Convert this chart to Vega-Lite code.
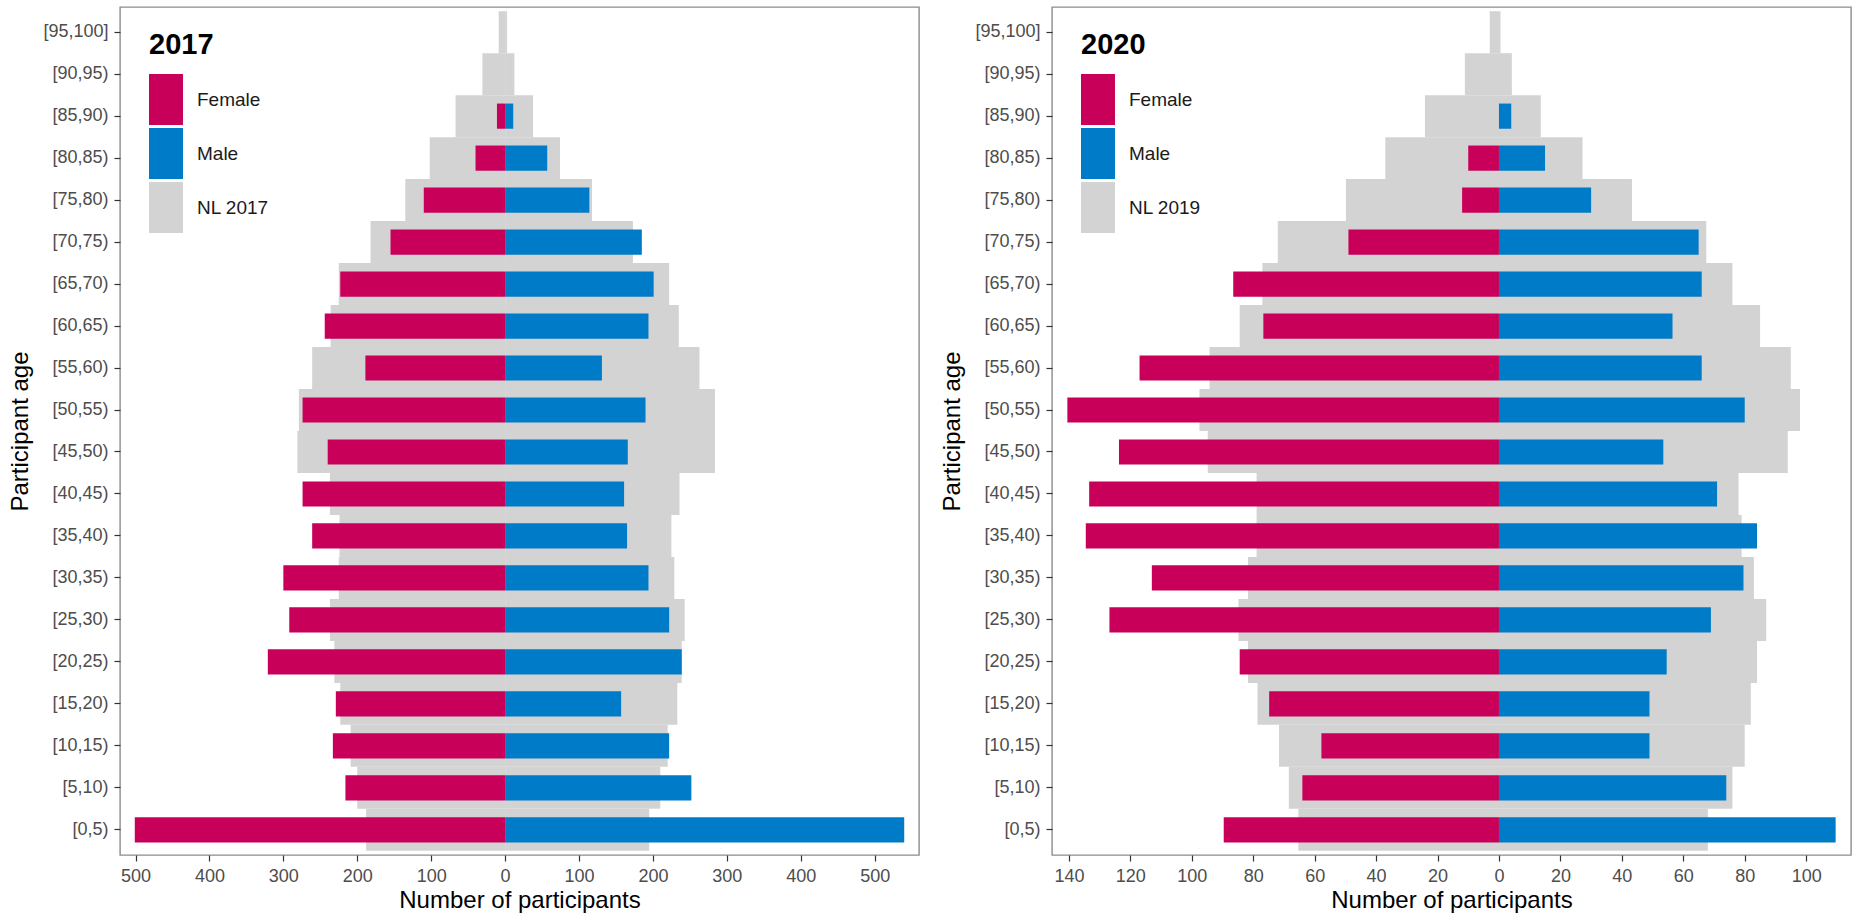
{
  "$schema": "https://vega.github.io/schema/vega-lite/v6.json",
  "background": "white",
  "padding": {"left": 8, "top": 6, "right": 0, "bottom": 0},
  "autosize": {"type": "pad"},
  "config": {
    "font": "Liberation Sans",
    "view": {"stroke": "#8C8C8C", "strokeWidth": 1.4},
    "concat": {"spacing": 20},
    "axis": {
      "grid": false, "domain": false,
      "tickColor": "#333333", "tickSize": 6, "tickWidth": 1.2,
      "labelColor": "#4D4D4D", "labelFontSize": 18, "labelFont": "Liberation Sans",
      "titleFont": "Liberation Sans", "titleFontSize": 24, "titleFontWeight": "normal", "titleColor": "#000000",
      "labelPadding": 6
    },
    "axisX": {"titlePadding": 3, "labelPadding": 6},
    "axisY": {"titlePadding": 10},
    "legend": {
      "orient": "none", "legendX": 29, "legendY": 24,
      "titleFontSize": 29, "titleFontWeight": "bold", "titleColor": "#000000", "titleFont": "Liberation Sans",
      "labelFontSize": 19, "labelColor": "#1A1A1A", "labelFont": "Liberation Sans",
      "symbolType": "M-1,-1H0.333V1H-1Z", "symbolSize": 2601, "symbolStrokeWidth": 0, "symbolOpacity": 1,
      "rowPadding": 3, "labelOffset": -3, "titlePadding": 14
    }
  },
  "datasets": {
    "d2017": [
      {"age": "[95,100]", "sex": "Female", "n": 0, "nl": -8.6},
      {"age": "[95,100]", "sex": "Male", "n": 0, "nl": 2.7},
      {"age": "[90,95)", "sex": "Female", "n": 0, "nl": -30.7},
      {"age": "[90,95)", "sex": "Male", "n": 0, "nl": 12.6},
      {"age": "[85,90)", "sex": "Female", "n": -11, "nl": -67},
      {"age": "[85,90)", "sex": "Male", "n": 11, "nl": 37.8},
      {"age": "[80,85)", "sex": "Female", "n": -40, "nl": -102},
      {"age": "[80,85)", "sex": "Male", "n": 57, "nl": 74.3},
      {"age": "[75,80)", "sex": "Female", "n": -110, "nl": -135},
      {"age": "[75,80)", "sex": "Male", "n": 114, "nl": 117.6},
      {"age": "[70,75)", "sex": "Female", "n": -155, "nl": -182},
      {"age": "[70,75)", "sex": "Male", "n": 185, "nl": 173},
      {"age": "[65,70)", "sex": "Female", "n": -223, "nl": -225},
      {"age": "[65,70)", "sex": "Male", "n": 201, "nl": 222},
      {"age": "[60,65)", "sex": "Female", "n": -244, "nl": -236},
      {"age": "[60,65)", "sex": "Male", "n": 194, "nl": 235},
      {"age": "[55,60)", "sex": "Female", "n": -189, "nl": -261},
      {"age": "[55,60)", "sex": "Male", "n": 131, "nl": 263},
      {"age": "[50,55)", "sex": "Female", "n": -274, "nl": -279},
      {"age": "[50,55)", "sex": "Male", "n": 190, "nl": 284},
      {"age": "[45,50)", "sex": "Female", "n": -240, "nl": -281},
      {"age": "[45,50)", "sex": "Male", "n": 166, "nl": 284},
      {"age": "[40,45)", "sex": "Female", "n": -274, "nl": -237},
      {"age": "[40,45)", "sex": "Male", "n": 161, "nl": 236},
      {"age": "[35,40)", "sex": "Female", "n": -261, "nl": -224},
      {"age": "[35,40)", "sex": "Male", "n": 165, "nl": 225},
      {"age": "[30,35)", "sex": "Female", "n": -300, "nl": -225},
      {"age": "[30,35)", "sex": "Male", "n": 194, "nl": 229},
      {"age": "[25,30)", "sex": "Female", "n": -292, "nl": -237},
      {"age": "[25,30)", "sex": "Male", "n": 222, "nl": 243},
      {"age": "[20,25)", "sex": "Female", "n": -321, "nl": -231},
      {"age": "[20,25)", "sex": "Male", "n": 239, "nl": 239},
      {"age": "[15,20)", "sex": "Female", "n": -229, "nl": -223},
      {"age": "[15,20)", "sex": "Male", "n": 157, "nl": 233},
      {"age": "[10,15)", "sex": "Female", "n": -233, "nl": -209},
      {"age": "[10,15)", "sex": "Male", "n": 222, "nl": 220},
      {"age": "[5,10)", "sex": "Female", "n": -216, "nl": -200},
      {"age": "[5,10)", "sex": "Male", "n": 252, "nl": 210},
      {"age": "[0,5)", "sex": "Female", "n": -501, "nl": -188},
      {"age": "[0,5)", "sex": "Male", "n": 540, "nl": 195}
    ],
    "d2020": [
      {"age": "[95,100]", "sex": "Female", "n": 0, "nl": -3},
      {"age": "[95,100]", "sex": "Male", "n": 0, "nl": 0.5},
      {"age": "[90,95)", "sex": "Female", "n": 0, "nl": -11.1},
      {"age": "[90,95)", "sex": "Male", "n": 0, "nl": 4.2},
      {"age": "[85,90)", "sex": "Female", "n": 0, "nl": -24.1},
      {"age": "[85,90)", "sex": "Male", "n": 4, "nl": 13.6},
      {"age": "[80,85)", "sex": "Female", "n": -10, "nl": -37},
      {"age": "[80,85)", "sex": "Male", "n": 15, "nl": 27.2},
      {"age": "[75,80)", "sex": "Female", "n": -12, "nl": -49.8},
      {"age": "[75,80)", "sex": "Male", "n": 30, "nl": 43.3},
      {"age": "[70,75)", "sex": "Female", "n": -49, "nl": -72},
      {"age": "[70,75)", "sex": "Male", "n": 65, "nl": 67.5},
      {"age": "[65,70)", "sex": "Female", "n": -86.5, "nl": -77},
      {"age": "[65,70)", "sex": "Male", "n": 66, "nl": 76},
      {"age": "[60,65)", "sex": "Female", "n": -76.7, "nl": -84.4},
      {"age": "[60,65)", "sex": "Male", "n": 56.5, "nl": 85},
      {"age": "[55,60)", "sex": "Female", "n": -117, "nl": -94.2},
      {"age": "[55,60)", "sex": "Male", "n": 66, "nl": 95},
      {"age": "[50,55)", "sex": "Female", "n": -140.5, "nl": -97.5},
      {"age": "[50,55)", "sex": "Male", "n": 80, "nl": 98},
      {"age": "[45,50)", "sex": "Female", "n": -123.7, "nl": -94.8},
      {"age": "[45,50)", "sex": "Male", "n": 53.5, "nl": 94},
      {"age": "[40,45)", "sex": "Female", "n": -133.4, "nl": -78.9},
      {"age": "[40,45)", "sex": "Male", "n": 71, "nl": 78},
      {"age": "[35,40)", "sex": "Female", "n": -134.5, "nl": -78.9},
      {"age": "[35,40)", "sex": "Male", "n": 84, "nl": 79},
      {"age": "[30,35)", "sex": "Female", "n": -113, "nl": -81.7},
      {"age": "[30,35)", "sex": "Male", "n": 79.6, "nl": 83},
      {"age": "[25,30)", "sex": "Female", "n": -126.8, "nl": -84.8},
      {"age": "[25,30)", "sex": "Male", "n": 69, "nl": 87},
      {"age": "[20,25)", "sex": "Female", "n": -84.4, "nl": -81.7},
      {"age": "[20,25)", "sex": "Male", "n": 54.6, "nl": 84},
      {"age": "[15,20)", "sex": "Female", "n": -74.8, "nl": -78.6},
      {"age": "[15,20)", "sex": "Male", "n": 49, "nl": 82},
      {"age": "[10,15)", "sex": "Female", "n": -57.8, "nl": -71.6},
      {"age": "[10,15)", "sex": "Male", "n": 49, "nl": 80},
      {"age": "[5,10)", "sex": "Female", "n": -64, "nl": -68.4},
      {"age": "[5,10)", "sex": "Male", "n": 74, "nl": 76},
      {"age": "[0,5)", "sex": "Female", "n": -89.6, "nl": -65.3},
      {"age": "[0,5)", "sex": "Male", "n": 109.6, "nl": 68}
    ]
  },
  "hconcat": [
    {
      "width": 799, "height": 848,
      "data": {"name": "d2017"},
      "encoding": {
        "y": {"field": "age", "type": "nominal", "title": "Participant age",
          "sort": ["[95,100]","[90,95)","[85,90)","[80,85)","[75,80)","[70,75)","[65,70)","[60,65)","[55,60)","[50,55)","[45,50)","[40,45)","[35,40)","[30,35)","[25,30)","[20,25)","[15,20)","[10,15)","[5,10)","[0,5)"],
          "scale": {"paddingInner": 0, "paddingOuter": 0.1}}
      },
      "layer": [
        {
          "mark": {"type": "bar"},
          "encoding": {
            "x": {"field": "nl", "type": "quantitative", "stack": null, "title": "Number of participants",
              "scale": {"domain": [-521, 560], "nice": false, "zero": true},
              "axis": {"values": [-500,-400,-300,-200,-100,0,100,200,300,400,500], "labelExpr": "format(abs(datum.value), 'd')"}},
            "color": {"datum": "NL 2017", "type": "nominal",
              "scale": {"domain": ["Female","Male","NL 2017"], "range": ["#C8005A","#007BC7","#D3D3D3"]},
              "legend": {"title": "2017"}}
          }
        },
        {
          "mark": {"type": "bar", "height": {"band": 0.6}},
          "encoding": {
            "x": {"field": "n", "type": "quantitative", "stack": null},
            "color": {"field": "sex", "type": "nominal"}
          }
        }
      ]
    },
    {
      "width": 799, "height": 848,
      "data": {"name": "d2020"},
      "encoding": {
        "y": {"field": "age", "type": "nominal", "title": "Participant age",
          "sort": ["[95,100]","[90,95)","[85,90)","[80,85)","[75,80)","[70,75)","[65,70)","[60,65)","[55,60)","[50,55)","[45,50)","[40,45)","[35,40)","[30,35)","[25,30)","[20,25)","[15,20)","[10,15)","[5,10)","[0,5)"],
          "scale": {"paddingInner": 0, "paddingOuter": 0.1}}
      },
      "layer": [
        {
          "mark": {"type": "bar"},
          "encoding": {
            "x": {"field": "nl", "type": "quantitative", "stack": null, "title": "Number of participants",
              "scale": {"domain": [-145.5, 114.6], "nice": false, "zero": true},
              "axis": {"values": [-140,-120,-100,-80,-60,-40,-20,0,20,40,60,80,100], "labelExpr": "format(abs(datum.value), 'd')"}},
            "color": {"datum": "NL 2019", "type": "nominal",
              "scale": {"domain": ["Female","Male","NL 2019"], "range": ["#C8005A","#007BC7","#D3D3D3"]},
              "legend": {"title": "2020"}}
          }
        },
        {
          "mark": {"type": "bar", "height": {"band": 0.6}},
          "encoding": {
            "x": {"field": "n", "type": "quantitative", "stack": null},
            "color": {"field": "sex", "type": "nominal"}
          }
        }
      ]
    }
  ],
  "resolve": {"scale": {"color": "independent"}}
}
